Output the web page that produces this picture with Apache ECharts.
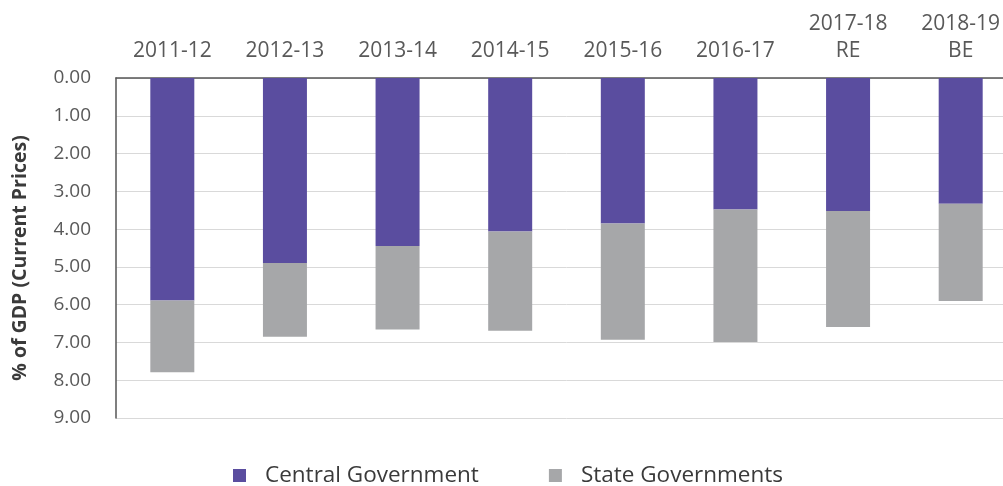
<!DOCTYPE html>
<html>
<head>
<meta charset="utf-8">
<script src="https://cdn.jsdelivr.net/npm/echarts@6/dist/echarts.min.js"></script>
<style>
  html, body { margin: 0; padding: 0; background: #ffffff; overflow: hidden; }
  /* the plot runs on past the right edge of the page, so the canvas is a bit wider than the window */
  #chart { width: 1020px; height: 486px; }
</style>
</head>
<body>
<div id="chart"></div>
<script>
// Public health spending as a share of GDP, by level of government
const years = ['2011-12', '2012-13', '2013-14', '2014-15', '2015-16', '2016-17', '2017-18\nRE', '2018-19\nBE'];
const centralGovt = [5.89, 4.90, 4.45, 4.06, 3.85, 3.48, 3.52, 3.33];
const stateGovts = [1.90, 1.95, 2.21, 2.63, 3.08, 3.51, 3.07, 2.57];
const yTicks = { min: 0, max: 9, step: 1 };

const labelFont = '"Open Sans", "Noto Sans", sans-serif';

const chart = echarts.init(document.getElementById('chart'), null, { renderer: 'canvas' });

chart.setOption({
  animation: false,
  backgroundColor: '#ffffff',
  grid: {
    left: 116, top: 78, width: 901, height: 340,
    containLabel: false,
    outerBoundsMode: 'none'
  },
  legend: {
    left: 228,
    top: 459,
    itemWidth: 13,
    itemHeight: 13,
    itemGap: 70,
    icon: 'rect',
    textStyle: {
      fontFamily: labelFont,
      fontSize: 22.5,
      color: '#3a3a3a',
      padding: [0, 0, 0, 14]
    },
    data: ['Central Government', 'State Governments']
  },
  xAxis: {
    type: 'category',
    position: 'top',
    data: years,
    axisLine: { show: true, lineStyle: { color: '#555555', width: 1.5 } },
    axisTick: { show: false },
    axisLabel: {
      margin: 13,
      fontFamily: labelFont,
      fontSize: 21,
      lineHeight: 27,
      color: '#595959',
      interval: 0
    }
  },
  yAxis: {
    type: 'value',
    inverse: true,
    min: yTicks.min,
    max: yTicks.max,
    interval: yTicks.step,
    name: '% of GDP (Current Prices)',
    nameLocation: 'middle',
    nameGap: 86,
    nameRotate: 90,
    nameTextStyle: {
      fontFamily: labelFont,
      fontSize: 19.5,
      fontWeight: 'bold',
      color: '#3a3a3a',
      padding: [0, 20, 0, 0]
    },
    axisLine: { show: true, lineStyle: { color: '#555555', width: 1.5 } },
    axisTick: { show: false },
    splitLine: { show: true, lineStyle: { color: '#d9d9d9', width: 1 } },
    axisLabel: {
      margin: 25,
      fontFamily: labelFont,
      fontSize: 19,
      color: '#595959',
      formatter: v => v.toFixed(2)
    }
  },
  series: [
    {
      name: 'Central Government',
      type: 'bar',
      stack: 'total',
      barWidth: 44,
      data: centralGovt,
      itemStyle: { color: '#5a4d9f' }
    },
    {
      name: 'State Governments',
      type: 'bar',
      stack: 'total',
      barWidth: 44,
      data: stateGovts,
      itemStyle: { color: '#a6a7a9' }
    }
  ]
});
</script>
</body>
</html>
